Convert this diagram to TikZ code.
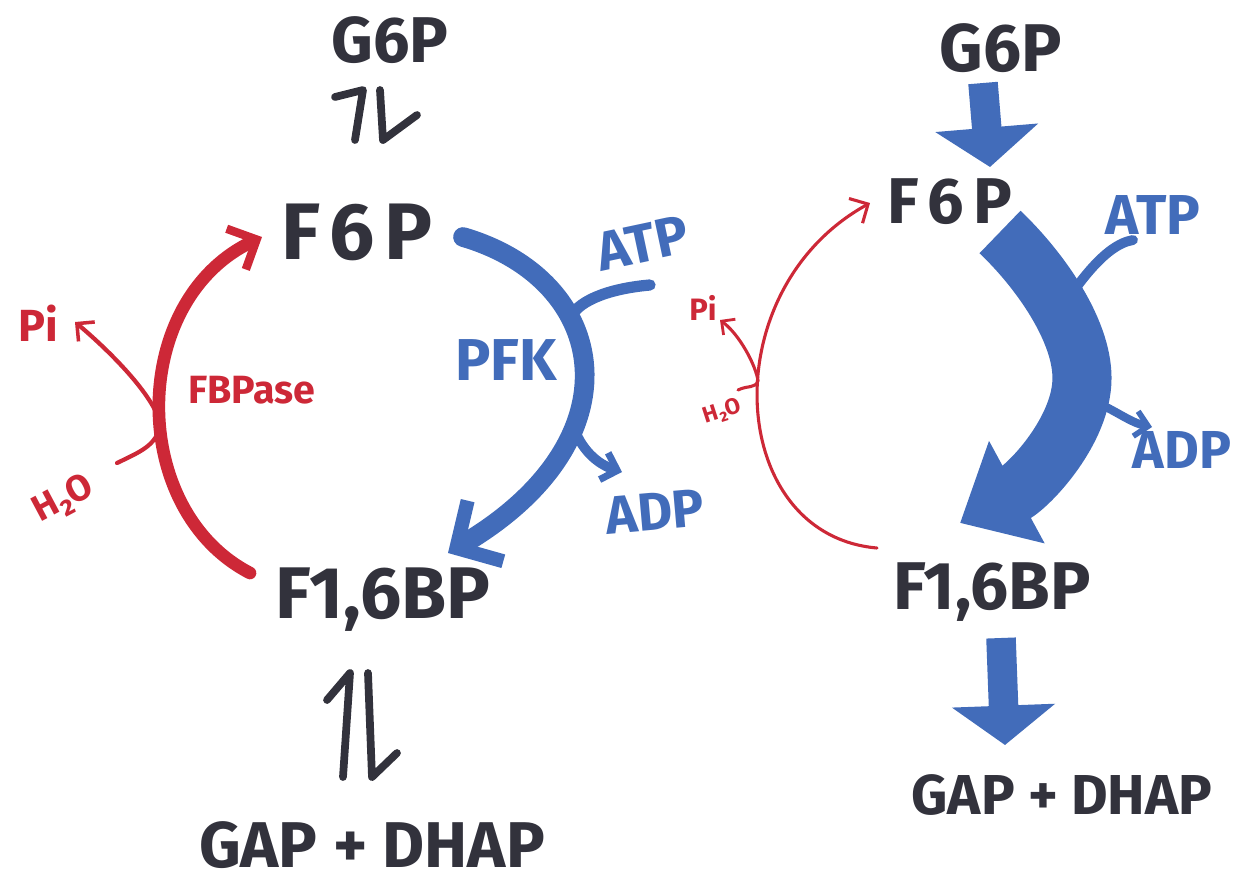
\documentclass[tikz,border=0pt]{standalone}
\usepackage{fontspec}
\setmainfont{Fira Sans}
\usepackage{tikz}
\usetikzlibrary{arrows.meta}

\definecolor{ink}{RGB}{50,50,60}
\definecolor{redpen}{RGB}{205,40,55}
\definecolor{bluepen}{RGB}{66,108,186}

\begin{document}
\begin{tikzpicture}[
        x=0.025cm,y=-0.025cm,
        met/.style={text=ink,inner sep=1pt,font=\bfseries\fontsize{#1}{#1}\selectfont},
        lab/.style={inner sep=1pt,font=\bfseries\fontsize{#1}{#1}\selectfont},
        eq/.style={draw=ink,line width=5.5pt,line cap=round,line join=round},
        redpath/.style={draw=redpen,line cap=round,line join=round},
        bluepath/.style={draw=bluepen,line cap=round,line join=round},
        fat/.style={draw=bluepen,line width=21pt,-{Triangle[length=28pt,width=72pt]}}
    ]
        \useasboundingbox (0,0) rectangle (1239,883);

        % left: both enzymes active
        \node[met=46] (lG6P) at (390,40) {G6P};
        \node[met=57] (lF6P) at (357,232) {\addfontfeature{LetterSpace=12}F6P};
        \node[met=52] (lF16BP) at (383,600) {F1,6BP};
        \node[met=46] (lGAP) at (372,845) {GAP + DHAP};
        \node[lab=39,text=bluepen,rotate=12] (lATP) at (643,243) {ATP};
        \node[lab=42,text=bluepen] (PFK) at (506,360) {PFK};
        \node[lab=38,text=bluepen,rotate=5] (lADP) at (655,512) {ADP};
        \node[lab=28,text=redpen] (FBPase) at (252,390) {FBPase};
        \node[lab=32,text=redpen] (lPi) at (38,323) {Pi};
        \node[lab=26,text=redpen,rotate=28] (lH2O) at (64,500) {H₂O};

        \draw[eq] ([shift={(-35,100)}]lG6P.center) -- ([shift={(-27,50)}]lG6P.center) -- ++(-28,7);
        \draw[eq] ([shift={(-10,50)}]lG6P.center) -- ([shift={(-7,100)}]lG6P.center) -- ++(34,-25);
        \draw[eq] ([shift={(-29,-68)}]lGAP.center) -- ([shift={(-22,-172)}]lGAP.center) -- ++(-23,27);
        \draw[eq] ([shift={(-4,-172)}]lGAP.center) -- ([shift={(0,-68)}]lGAP.center) -- ++(25,-24);

        \draw[redpath,line width=9pt,-{Straight Barb[length=16pt,width=32pt,line width=6pt]}]
            ([shift={(-133,-27)}]lF16BP.center) .. controls (128,510) and (128,300) .. ([shift={(-95,5)}]lF6P.center)
            coordinate[pos=0.45] (fbpmid);
        \draw[redpath,line width=3pt,-{Straight Barb[length=9pt,width=18pt,line width=2.5pt]}]
            ([shift={(53,-37)}]lH2O.center) .. controls +(25,-12) and +(-5,20) .. (fbpmid)
            .. controls +(-5,-30) and +(30,25) .. ([shift={(37,-1)}]lPi.center);

        \draw[bluepath,line width=14pt,-{Straight Barb[length=24pt,width=50pt,line width=10pt]}]
            ([shift={(106,5)}]lF6P.center) .. controls (610,280) and (640,440) .. ([shift={(65,-47)}]lF16BP.center)
            coordinate[pos=0.35] (pfkin) coordinate[pos=0.65] (pfkout);
        \draw[bluepath,line width=8pt] ([shift={(7,42)}]lATP.center) .. controls +(-35,3) and +(10,-20) .. (pfkin);
        \draw[bluepath,line width=7pt,-{Straight Barb[length=10pt,width=20pt,line width=5pt]}]
            (pfkout) .. controls +(8,25) and +(-25,-8) .. ([shift={(-33,-40)}]lADP.center);

        % right: PFK on, FBPase off
        \node[met=48] (rG6P) at (1001,48) {G6P};
        \node[met=46] (rF6P) at (950,202) {\addfontfeature{LetterSpace=15}F6P};
        \node[met=48] (rF16BP) at (992,592) {F1,6BP};
        \node[met=40] (rGAP) at (1062,795) {GAP + DHAP};
        \node[lab=40,text=bluepen] (rATP) at (1153,215) {ATP};
        \node[lab=38,text=bluepen] (rADP) at (1182,450) {ADP};
        \node[lab=22,text=redpen] (rPi) at (703,308) {Pi};
        \node[lab=16,text=redpen,rotate=18] (rH2O) at (722,412) {H₂O};

        \draw[fat] ([shift={(-18,35)}]rG6P.center) -- ([shift={(40,-35)}]rF6P.center);
        \draw[fat] ([shift={(9,46)}]rF16BP.center) -- ([shift={(-57,-50)}]rGAP.center);

        \draw[bluepath,line width=42pt,line cap=butt,-{Triangle[length=46pt,width=80pt]}]
            ([shift={(50,30)}]rF6P.center) .. controls (1040,270) and (1082,330) .. (1082,378)
            coordinate[pos=0.55] (bandin)
            .. controls (1082,430) and (1030,485) .. ([shift={(-32,-69)}]rF16BP.center)
            coordinate[pos=0.12] (bandout);
        \draw[bluepath,line width=7pt] ([shift={(-20,25)}]rATP.center) .. controls +(-30,5) and +(15,-20) .. (bandin);
        \draw[bluepath,line width=6pt,-{Straight Barb[length=9pt,width=18pt,line width=4pt]}]
            (bandout) .. controls +(30,8) and +(-25,-5) .. ([shift={(-30,-23)}]rADP.center);

        \draw[redpath,line width=2.2pt,-{Straight Barb[length=10pt,width=20pt,line width=2.2pt]}]
            ([shift={(-115,-44)}]rF16BP.center) .. controls (726,535) and (712,290) .. ([shift={(-80,1)}]rF6P.center)
            coordinate[pos=0.55] (h2oin);
        \draw[redpath,line width=2.2pt,-{Straight Barb[length=7pt,width=14pt,line width=2pt]}]
            ([shift={(16,-22)}]rH2O.center) .. controls +(10,-5) and +(-3,8) .. (h2oin)
            .. controls +(-2,-15) and +(20,15) .. ([shift={(17,12)}]rPi.center);
    \end{tikzpicture}
\end{document}
